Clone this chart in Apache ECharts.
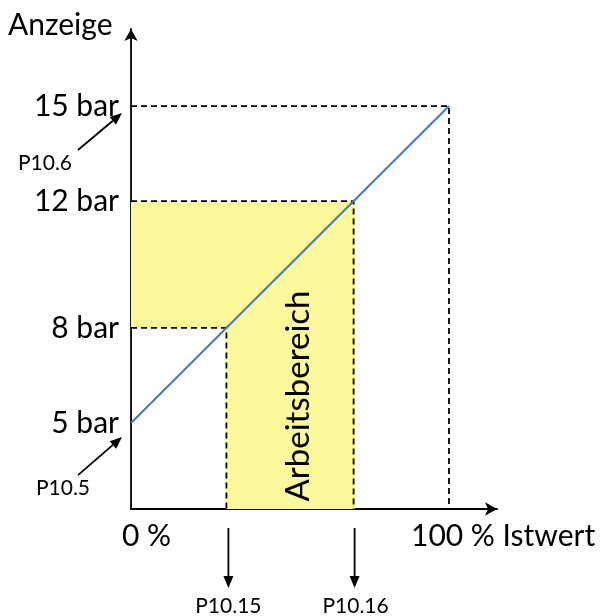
<!DOCTYPE html>
<html><head><meta charset="utf-8">
<script src="https://cdn.jsdelivr.net/npm/echarts@6/dist/echarts.min.js"></script>
<style>html,body{margin:0;padding:0;background:#fff}#c{width:603px;height:616px}</style>
</head><body><div id="c"></div>
<script>
// ---- data ----
const xMin = 0, xMax = 115.1;
const yMin = 2.29, yMax = 17.43;
const lineX = [0, 100];
const lineY = [5, 15];
const yTicks = [5, 8, 12, 15];
const yTickUnit = ' bar';
const xLabelTexts = ['0 %', '100 % Istwert'];
const xLabelValues = [0, 100];
const guideX = [100, 70, 30];
const guideY = [15, 12, 8];
const workLowX = 30, workHighX = 70;
const workLowY = 8, workHighY = 12;
const paramTop = 'P10.6', paramBottom = 'P10.5', paramLow = 'P10.15', paramHigh = 'P10.16';
const areaLabel = 'Arbeitsbereich';
const yTitle = 'Anzeige';

const FONT = 'Lato';
const chart = echarts.init(document.getElementById('c'), null, {renderer: 'canvas'});

const rects = [
  [0, workLowY, workLowX, workHighY],
  [workLowX, yMin, workHighX, workHighY]
];

const dashSeries = guideX.map((gx, i) => ({
  type: 'line', z: 3, symbol: 'none', silent: true,
  data: [[0, guideY[i]], [gx, guideY[i]], [gx, yMin]],
  lineStyle: {color: '#000', width: 1.8, type: [6, 4]}
}));

chart.setOption({
  animation: false,
  grid: {left: 131, top: 29, width: 366, height: 480, containLabel: false},
  xAxis: {
    type: 'value', min: xMin, max: xMax,
    axisLine: {show: true, onZero: false, symbol: ['none', 'arrow'], symbolSize: [10, 12],
      lineStyle: {color: '#000', width: 1.8}},
    axisTick: {show: false}, axisLabel: {show: false}, splitLine: {show: false}
  },
  yAxis: {
    type: 'value', min: yMin, max: yMax,
    axisLine: {show: true, onZero: false, symbol: ['none', 'arrow'], symbolSize: [10, 12],
      lineStyle: {color: '#000', width: 1.8}},
    axisTick: {show: false}, splitLine: {show: false},
    axisLabel: {show: true, customValues: yTicks, formatter: v => v + yTickUnit,
      fontSize: 30, color: '#000', fontFamily: FONT, margin: 12}
  },
  series: [
    {
      type: 'custom', z: 1, silent: true,
      data: rects,
      renderItem: (params, api) => {
        const p1 = api.coord([api.value(0), api.value(3)]);
        const p2 = api.coord([api.value(2), api.value(1)]);
        const x1 = Math.round(p1[0]), y1 = Math.round(p1[1]);
        const x2 = Math.round(p2[0]) + 1, y2 = Math.round(p2[1]);
        return {type: 'rect', shape: {x: x1, y: y1, width: x2 - x1, height: y2 - y1},
          style: {fill: '#fcf89c'}};
      }
    },
    ...dashSeries,
    {
      type: 'line', z: 4, symbol: 'none', silent: true,
      data: lineX.map((x, i) => [x, lineY[i]]),
      lineStyle: {color: '#4a7ebb', width: 2.2}
    }
  ]
});

function px(x, y) { return chart.convertToPixel({gridIndex: 0}, [x, y]); }

function arrow(x1, y1, x2, y2) {
  const ang = Math.atan2(y2 - y1, x2 - x1);
  const L = 12, W = 5;
  const bx = x2 - L * Math.cos(ang), by = y2 - L * Math.sin(ang);
  const nx = -Math.sin(ang), ny = Math.cos(ang);
  return [
    {type: 'line', z: 10, shape: {x1, y1, x2: bx, y2: by}, style: {stroke: '#000', lineWidth: 1.8}},
    {type: 'polygon', z: 10, shape: {points: [[x2, y2], [bx + nx * W, by + ny * W], [bx - nx * W, by - ny * W]]},
      style: {fill: '#000'}}
  ];
}

function text(t, x, y, size, align) {
  return {type: 'text', x, y, z: 10,
    style: {text: t, fontSize: size, fontFamily: FONT, fill: '#000', align: align || 'center', verticalAlign: 'middle'}};
}

const o = px(0, yMin);
const pTop = px(0, lineY[1]);
const pBot = px(0, lineY[0]);
const pLow = px(workLowX, yMin);
const pHigh = px(workHighX, yMin);
const p0 = px(xLabelValues[0], yMin);
const p100 = px(xLabelValues[1], yMin);
const pMid = px((workLowX + workHighX) / 2, yMin);

const g = [];
g.push(text(yTitle, 8, 25, 30, 'left'));
g.push(text(xLabelTexts[0], p0[0] - 9, o[1] + 27, 30, 'left'));
g.push(text(xLabelTexts[1], p100[0] - 38, o[1] + 27, 30, 'left'));
g.push(...arrow(pTop[0] - 53, pTop[1] + 44, pTop[0] - 9, pTop[1] + 7));
g.push(text(paramTop, 45, pTop[1] + 57, 21, 'center'));
g.push(...arrow(pBot[0] - 53, pBot[1] + 52, pBot[0] - 9, pBot[1] + 14));
g.push(text(paramBottom, 63, pBot[1] + 65, 21, 'center'));
g.push(...arrow(pLow[0] + 2, o[1] + 19, pLow[0] + 2, o[1] + 79));
g.push(text(paramLow, pLow[0] + 2, o[1] + 97, 21, 'center'));
g.push(...arrow(pHigh[0] + 1, o[1] + 19, pHigh[0] + 1, o[1] + 79));
g.push(text(paramHigh, pHigh[0] + 2, o[1] + 97, 21, 'center'));
g.push({type: 'group', x: pMid[0] + 8, y: 396, rotation: Math.PI / 2, z: 10,
  children: [text(areaLabel, 0, 0, 33, 'center')]});

chart.setOption({graphic: {elements: g}});
</script>
</body></html>
